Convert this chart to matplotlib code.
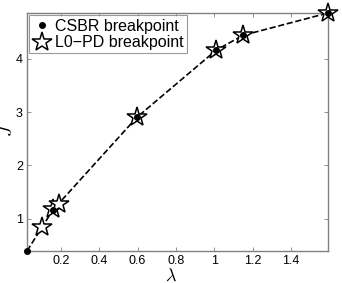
import matplotlib
matplotlib.use('Agg')
import matplotlib.pyplot as plt

# CSBR breakpoints (dots joined by dashed line)
csbr_lam = [0.023, 0.158, 0.596, 1.009, 1.149, 1.593]
csbr_J = [0.39, 1.16, 2.90, 4.16, 4.44, 4.86]

# L0-PD breakpoints (stars)
l0_lam = [0.10, 0.16, 0.19, 0.596, 1.009, 1.149, 1.593]
l0_J = [0.85, 1.17, 1.28, 2.90, 4.16, 4.44, 4.86]

xticks = [0.2, 0.4, 0.6, 0.8, 1, 1.2, 1.4]
xticklabels = ['0.2', '0.4', '0.6', '0.8', '1', '1.2', '1.4']
yticks = [1, 2, 3, 4]

plt.rcParams['font.family'] = ['Liberation Sans', 'DejaVu Sans']
plt.rcParams['mathtext.fontset'] = 'cm'

fig = plt.figure(figsize=(3.42, 2.83), dpi=100)
ax = fig.add_axes([27/342, 1 - 251/283, 301/342, 238/283])

ax.plot(csbr_lam, csbr_J, '--', color='k', lw=1.2, zorder=2)
ax.plot(l0_lam, l0_J, linestyle='none', marker='*', markersize=15,
        markerfacecolor='white', markeredgecolor='k', markeredgewidth=1.1,
        zorder=3, label='L0\u2212PD breakpoint', clip_on=False)
ax.plot(csbr_lam, csbr_J, linestyle='none', marker='o', markersize=4,
        color='k', zorder=4, label='CSBR breakpoint', clip_on=False)

ax.set_xlim(csbr_lam[0], csbr_lam[-1])
ax.set_ylim(csbr_J[0], csbr_J[-1])
ax.set_xticks(xticks)
ax.set_xticklabels(xticklabels)
ax.set_yticks(yticks)
ax.tick_params(direction='in', top=True, right=True, length=3, width=0.6,
               labelsize=9, color='#808080', pad=3)
for s in ax.spines.values():
    s.set_color('#808080')
    s.set_linewidth(1.0)

# axis labels placed by hand (tight margins like the original)
fig.text(171/342, 1 - 276/283, r'$\lambda$', fontsize=13, ha='center', va='center')
fig.text(8/342, 1 - 130/283, r'$J$', fontsize=13, rotation=90, ha='center', va='center')

h, l = ax.get_legend_handles_labels()
leg = ax.legend(h[::-1], l[::-1], loc='upper left', fontsize=11.5,
                frameon=True, fancybox=False, edgecolor='#808080',
                borderaxespad=0.15, handletextpad=0.2, handlelength=1.2,
                borderpad=0.2, labelspacing=0.1)
leg.get_frame().set_linewidth(0.8)

fig.savefig('out.png', dpi=100)
